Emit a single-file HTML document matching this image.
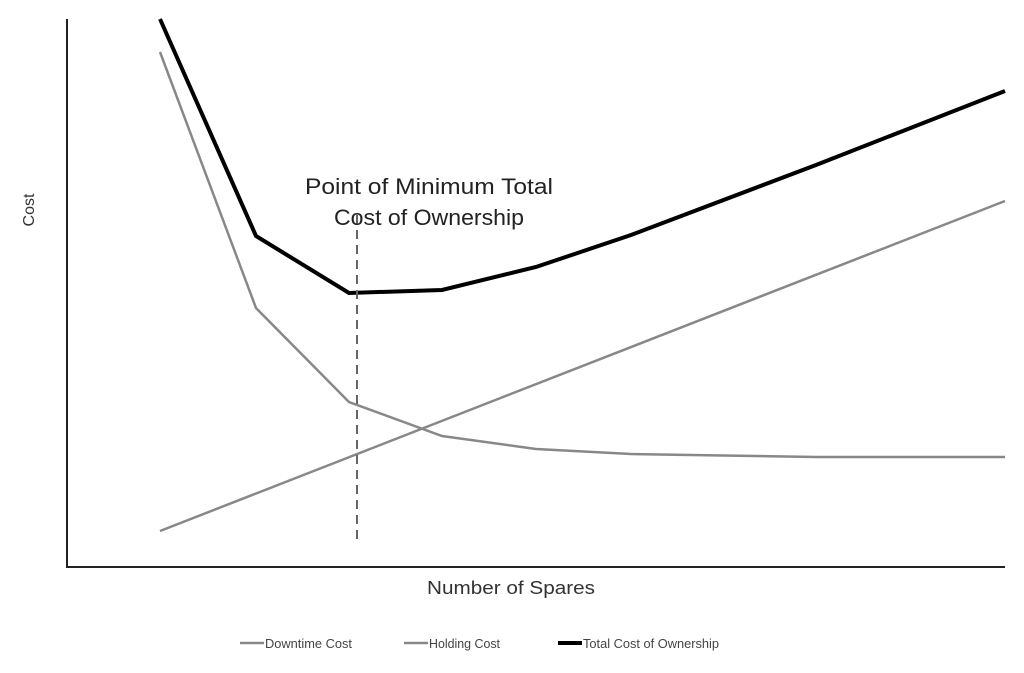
<!DOCTYPE html>
<html><head><style>body{margin:0;background:#fff}</style></head><body>
<svg width="1024" height="668" xmlns="http://www.w3.org/2000/svg" font-family="Liberation Sans, sans-serif">
<rect width="1024" height="668" fill="#fff"/>
<line x1="67" y1="19" x2="67" y2="567" stroke="#222" stroke-width="2"/>
<line x1="66" y1="567" x2="1005" y2="567" stroke="#222" stroke-width="2"/>
<polyline fill="none" stroke="#888" stroke-width="2.5" points="160,52 256,308 349,402 442,436 536,449 631,454 816,457 1005,457"/>
<line x1="160" y1="531" x2="1005" y2="201" stroke="#888" stroke-width="2.5"/>
<polyline fill="none" stroke="#000" stroke-width="4" points="160,19 256,236 349,293 442,290 536,267 631,235 816,165 1005,91"/>
<line x1="357" y1="215" x2="357" y2="545" stroke="#666" stroke-width="2" stroke-dasharray="9,6"/>
<text x="429" y="194" font-size="22" text-anchor="middle" fill="#222" textLength="248" lengthAdjust="spacingAndGlyphs">Point of Minimum Total</text>
<text x="429" y="225" font-size="22" text-anchor="middle" fill="#222" textLength="190" lengthAdjust="spacingAndGlyphs">Cost of Ownership</text>
<text x="511" y="594" font-size="18" text-anchor="middle" fill="#333" textLength="168" lengthAdjust="spacingAndGlyphs">Number of Spares</text>
<text transform="translate(34,210) rotate(-90)" font-size="16" text-anchor="middle" fill="#333">Cost</text>
<line x1="240" y1="643" x2="264" y2="643" stroke="#888" stroke-width="2.5"/>
<text x="265" y="648" font-size="13" fill="#444" textLength="87" lengthAdjust="spacingAndGlyphs">Downtime Cost</text>
<line x1="404" y1="643" x2="428" y2="643" stroke="#888" stroke-width="2.5"/>
<text x="429" y="648" font-size="13" fill="#444" textLength="71" lengthAdjust="spacingAndGlyphs">Holding Cost</text>
<line x1="558" y1="643" x2="582" y2="643" stroke="#000" stroke-width="4"/>
<text x="583" y="648" font-size="13" fill="#444" textLength="136" lengthAdjust="spacingAndGlyphs">Total Cost of Ownership</text>
</svg>
</body></html>
